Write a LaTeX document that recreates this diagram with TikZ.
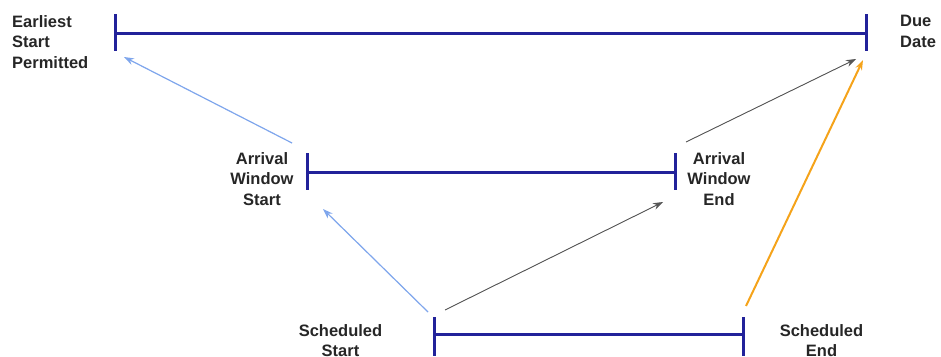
\documentclass[tikz,border=0pt]{standalone}
\usepackage{fontspec}
\setmainfont{Liberation Sans}
\usetikzlibrary{arrows.meta}
\definecolor{barblue}{HTML}{22229A}
\definecolor{lblue}{HTML}{7FA6EC}
\definecolor{dgray}{HTML}{555555}
\definecolor{orng}{HTML}{F5A31A}
\begin{document}
\begin{tikzpicture}[x=1pt,y=-1pt,
  bar/.style={draw=barblue,line width=3pt},
  lbl/.style={font=\fontsize{16.5}{20.5}\selectfont\bfseries,text=black!85,inner sep=0pt},
  arr/.style={-{Stealth[length=10pt,width=7pt]}},
  blu/.style={arr,draw=lblue,fill=lblue,line width=1.2pt},
  gry/.style={arr,draw=dgray,fill=dgray,line width=0.9pt},
  org/.style={arr,draw=orng,fill=orng,line width=2pt}]
\useasboundingbox (0,0) rectangle (941,356);
% top bar
\coordinate (t1a) at (115,14); \coordinate (t1b) at (115,51);
\coordinate (t2a) at (866,14); \coordinate (t2b) at (866,51);
\coordinate (t1) at (115,33); \coordinate (t2) at (866,33);
\draw[bar] (t1a) -- (t1b); \draw[bar] (t2a) -- (t2b); \draw[bar] (t1) -- (t2);
% middle bar
\coordinate (m1a) at (307,153); \coordinate (m1b) at (307,190);
\coordinate (m2a) at (675,153); \coordinate (m2b) at (675,190);
\coordinate (m1) at (307,172); \coordinate (m2) at (675,172);
\draw[bar] (m1a) -- (m1b); \draw[bar] (m2a) -- (m2b); \draw[bar] (m1) -- (m2);
% bottom bar
\coordinate (b1a) at (434,317); \coordinate (b1b) at (434,356);
\coordinate (b2a) at (743,317); \coordinate (b2b) at (743,356);
\coordinate (b1) at (434,334); \coordinate (b2) at (743,334);
\draw[bar] (b1a) -- (b1b); \draw[bar] (b2a) -- (b2b); \draw[bar] (b1) -- (b2);
% labels
\node[lbl,anchor=north west,align=left] (esp) at (12,15) {Earliest\\Start\\Permitted};
\node[lbl,anchor=north west,align=left] (dd) at (900,15) {Due\\Date};
\node[lbl,anchor=north,align=center] (aws) at (262,152) {Arrival\\Window\\Start};
\node[lbl,anchor=north,align=center] (awe) at (719,152) {Arrival\\Window\\End};
\node[lbl,anchor=north,align=center] (ss) at (340.5,324) {Scheduled\\Start};
\node[lbl,anchor=north,align=center] (se) at (821.5,324) {Scheduled\\End};
% arrow endpoints
\coordinate (a1s) at (292,143); \coordinate (a1e) at (124,57);
\coordinate (a2s) at (428,312); \coordinate (a2e) at (323,209);
\coordinate (a3s) at (445,310); \coordinate (a3e) at (663,202);
\coordinate (a4s) at (686,142); \coordinate (a4e) at (856,59);
\coordinate (a5s) at (746,306); \coordinate (a5e) at (863,60);
\draw[blu] (a1s) -- (a1e);
\draw[blu] (a2s) -- (a2e);
\draw[gry] (a3s) -- (a3e);
\draw[gry] (a4s) -- (a4e);
\draw[org] (a5s) -- (a5e);
\end{tikzpicture}
\end{document}
